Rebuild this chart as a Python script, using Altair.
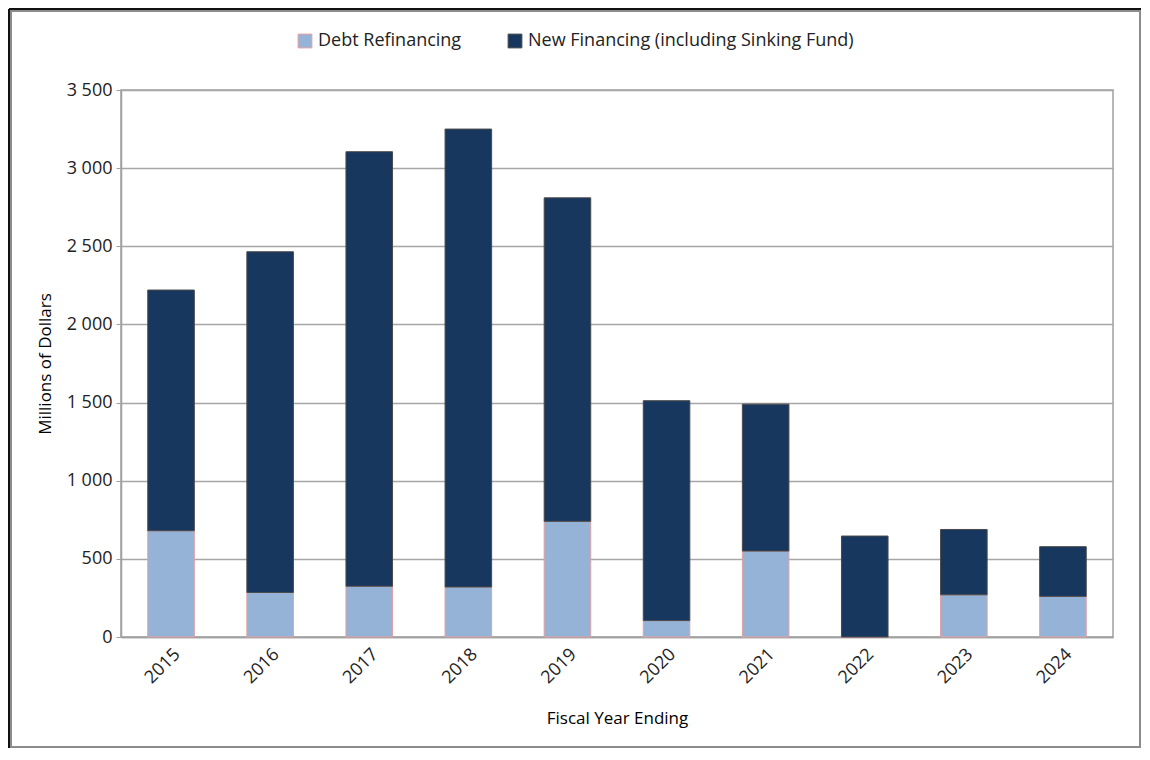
import altair as alt
import pandas as pd

years = ["2015", "2016", "2017", "2018", "2019", "2020", "2021", "2022", "2023", "2024"]
refinancing = [680, 285, 325, 320, 740, 105, 550, 0, 270, 260]
totals = [2220, 2465, 3105, 3250, 2810, 1512, 1490, 646, 688, 578]
new_financing = [t - r for t, r in zip(totals, refinancing)]
series = ["Debt Refinancing", "New Financing (including Sinking Fund)"]

rows = []
for y, r, n in zip(years, refinancing, new_financing):
    rows.append({"year": y, "series": series[0], "value": r, "ord": 0})
    rows.append({"year": y, "series": series[1], "value": n, "ord": 1})
df = pd.DataFrame(rows)

FONT = "Open Sans"
W, H = 992, 547
PL, PT, PR, PB = 113, 82, 29, 112

bars = alt.Chart(df).mark_bar(strokeWidth=1).encode(
    x=alt.X("year:N", sort=years, title="Fiscal Year Ending",
            scale=alt.Scale(paddingInner=0.53, paddingOuter=0.27),
            axis=alt.Axis(labelAngle=-45, labelFontSize=18, labelPadding=8, ticks=False,
                          titleFontSize=17, titlePadding=24, titleFontWeight="normal",
                          domainColor="#A0A0A0", domainWidth=1.5, labelColor="#222")),
    y=alt.Y("value:Q", stack="zero", title="Millions of Dollars",
            scale=alt.Scale(domain=[0, 3500], nice=False),
            axis=alt.Axis(values=[0, 500, 1000, 1500, 2000, 2500, 3000, 3500],
                          labelExpr="replace(format(datum.value, ','), ',', ' ')",
                          labelFontSize=18, labelPadding=4, tickSize=5, tickColor="#A0A0A0",
                          titleFontSize=17, titlePadding=12, titleFontWeight="normal",
                          domainColor="#A0A0A0", domainWidth=1.5, labelColor="#222",
                          gridColor="#A6A6A6", gridWidth=1.5)),
    color=alt.Color("series:N", title=None,
                    scale=alt.Scale(domain=series, range=["#95B3D7", "#17375E"]),
                    legend=alt.Legend(orient="none", legendX=175, legendY=-58,
                                      direction="horizontal", symbolType="square",
                                      symbolSize=190, labelFontSize=18, columnPadding=44,
                                      labelLimit=0, symbolStrokeWidth=1, labelColor="#222")),
    stroke=alt.Stroke("series:N", title=None,
                      scale=alt.Scale(domain=series, range=["#E3A0A0", "#4A4A4A"])),
    order=alt.Order("ord:Q", sort="ascending"),
)

frame_df = pd.DataFrame({"k": [0]})
frame = alt.Chart(frame_df).mark_rect(fill=None, stroke="#8C8C8C", strokeWidth=2).encode(
    x=alt.value(-110), x2=alt.value(W + PR - 2),
    y=alt.value(-PT + 3), y2=alt.value(H + PB - 2),
)
top_line = alt.Chart(frame_df).mark_rule(stroke="#111", strokeWidth=2).encode(
    x=alt.value(-112), x2=alt.value(W + PR - 1), y=alt.value(-PT + 1),
)
left_line = alt.Chart(frame_df).mark_rule(stroke="#111", strokeWidth=2).encode(
    x=alt.value(-112), y=alt.value(-PT + 1), y2=alt.value(H + PB - 1),
)

chart = alt.layer(bars, frame, top_line, left_line).properties(
    width=W, height=H,
    autosize=alt.AutoSizeParams(type="none"),
    padding={"left": PL, "top": PT, "right": PR, "bottom": PB},
    background="white",
).configure(font=FONT).configure_view(stroke="#A0A0A0", strokeWidth=1.5)

chart.save("out.html", embed_options={"renderer": "svg", "actions": False})
